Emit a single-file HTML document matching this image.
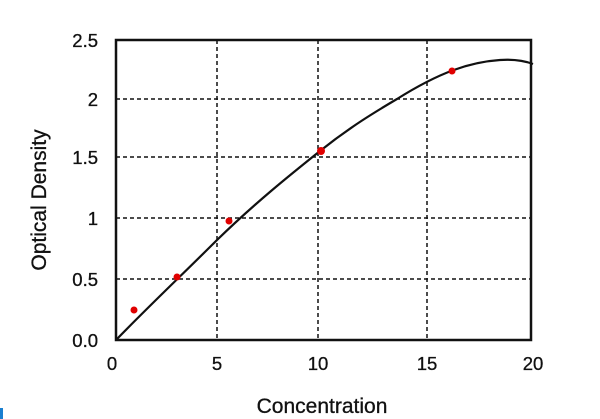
<!DOCTYPE html>
<html><head><style>body{margin:0;background:#fff}svg{display:block}text{font-family:"Liberation Sans",Arial,sans-serif;fill:#111}</style></head>
<body>
<svg width="600" height="419" viewBox="0 0 600 419">
<g stroke="#111" stroke-width="1.5" stroke-dasharray="4,3" fill="none">
<line x1="116" y1="99" x2="531" y2="99"/>
<line x1="116" y1="157" x2="531" y2="157"/>
<line x1="116" y1="218" x2="531" y2="218"/>
<line x1="116" y1="279" x2="531" y2="279"/>
<line x1="217" y1="40" x2="217" y2="340"/>
<line x1="318" y1="40" x2="318" y2="340"/>
<line x1="427" y1="40" x2="427" y2="340"/>
</g>
<rect x="116" y="40" width="415" height="300" fill="none" stroke="#111" stroke-width="2.5"/>
<path d="M116,340 C150,305 185,272 217,240 C255,203 290,175 320,151 C350,127 375,112 397,99 C440,72 470,62 500,60 C515,59 525,61 533,64" fill="none" stroke="#111" stroke-width="2.2"/>
<g fill="#e00000">
<circle cx="134" cy="310" r="3.5"/><circle cx="177" cy="277" r="3.5"/><circle cx="229" cy="221" r="3.5"/><circle cx="321" cy="151" r="4"/><circle cx="452" cy="71" r="3.5"/>
</g>
<g font-size="18.5" text-anchor="end" stroke="#111" stroke-width="0.3">
<text x="98" y="47">2.5</text><text x="98" y="106">2</text><text x="98" y="164">1.5</text><text x="98" y="225">1</text><text x="98" y="286">0.5</text><text x="98" y="347">0.0</text>
</g>
<g font-size="18.5" text-anchor="middle" stroke="#111" stroke-width="0.3">
<text x="112" y="370">0</text><text x="217" y="370">5</text><text x="318" y="370">10</text><text x="427" y="370">15</text><text x="533" y="370">20</text>
</g>
<g font-size="21" text-anchor="middle" stroke="#111" stroke-width="0.3">
<text x="322" y="413">Concentration</text>
<text transform="translate(46,200) rotate(-90)">Optical Density</text>
</g>
<rect x="0" y="408" width="3" height="11" fill="#1a7fd0"/>
</svg>
</body></html>
